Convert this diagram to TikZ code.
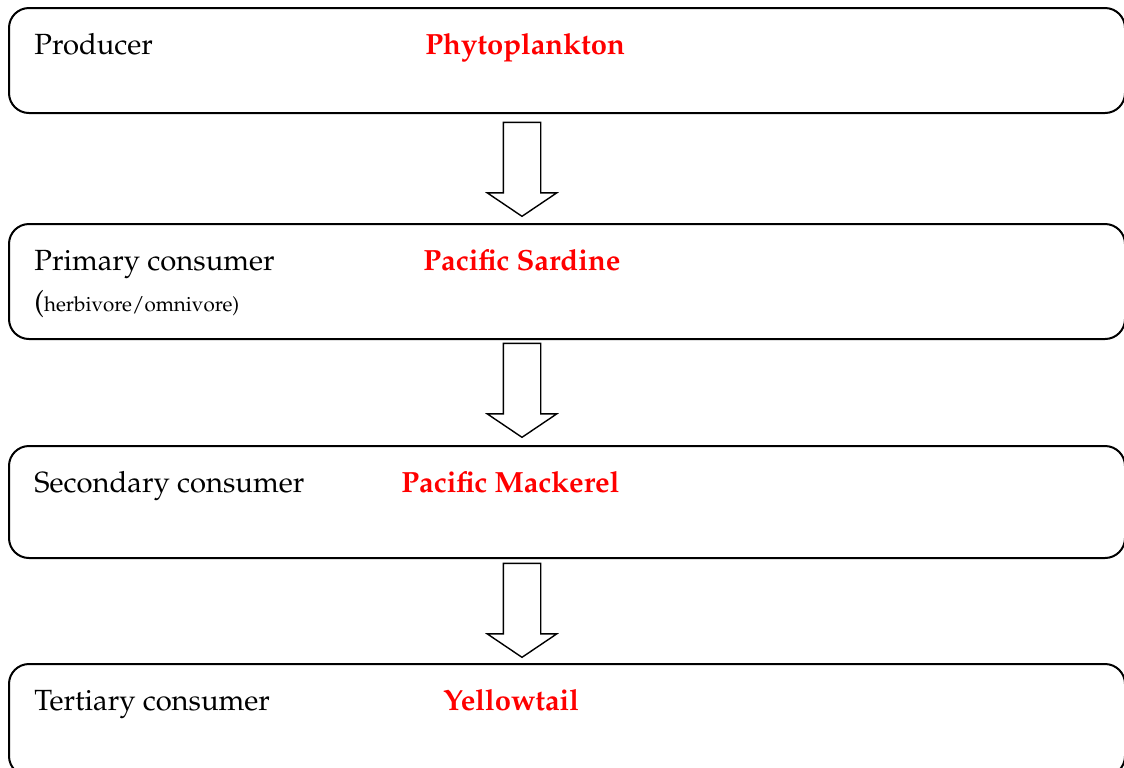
\documentclass[tikz,border=0pt]{standalone}
\usepackage[T1]{fontenc}
\usepackage{mathpazo}
\usetikzlibrary{shapes.arrows,positioning}

\begin{document}
\begin{tikzpicture}[x=0.5pt, y=-0.5pt,
    level/.style={draw, line width=1pt, rounded corners=10pt, minimum width=558pt, inner sep=0pt},
    role/.style={anchor=base west, inner sep=0pt, font=\fontsize{14.6}{18}\selectfont},
    organism/.style={anchor=base west, inner sep=0pt, text=red, font=\fontsize{14.6}{18}\selectfont\bfseries},
    feeds/.style={draw, line width=0.7pt, single arrow, shape border rotate=270, minimum height=47pt,
        single arrow head extend=8pt, single arrow tip angle=112, inner sep=9pt}]
    \useasboundingbox (0,0) rectangle (1124,767);
    % trophic levels
    \node[level, minimum height=52.5pt] (producer) at (567, 60.5) {};
    \node[level, minimum height=57.5pt] (primary) at (567, 281.5) {};
    \node[level, minimum height=56pt] (secondary) at (567, 502) {};
    \node[level, minimum height=56pt] (tertiary) at (567, 720) {};
    % labels
    \node[role] (producerlabel) at (34, 54) {Producer};
    \node[organism] (phyto) at (425, 54) {Phytoplankton};
    \node[role] (primarylabel) at (34, 270) {Primary consumer};
    \node[role] (primarynote) at (34, 311) {(\fontsize{10.3}{12}\selectfont herbivore/omnivore)};
    \node[organism] (sardine) at (423, 270) {Pacific Sardine};
    \node[role] (secondarylabel) at (34, 492) {Secondary consumer};
    \node[organism] (mackerel) at (401, 492) {Pacific Mackerel};
    \node[role] (tertiarylabel) at (34, 710) {Tertiary consumer};
    \node[organism] (yellowtail) at (443, 710) {Yellowtail};
    % arrows
    \node[feeds] (a1) at (522, 163) {};
    \node[feeds] (a2) at (522, 384) {};
    \node[feeds] (a3) at (522, 604) {};
\end{tikzpicture}
\end{document}
